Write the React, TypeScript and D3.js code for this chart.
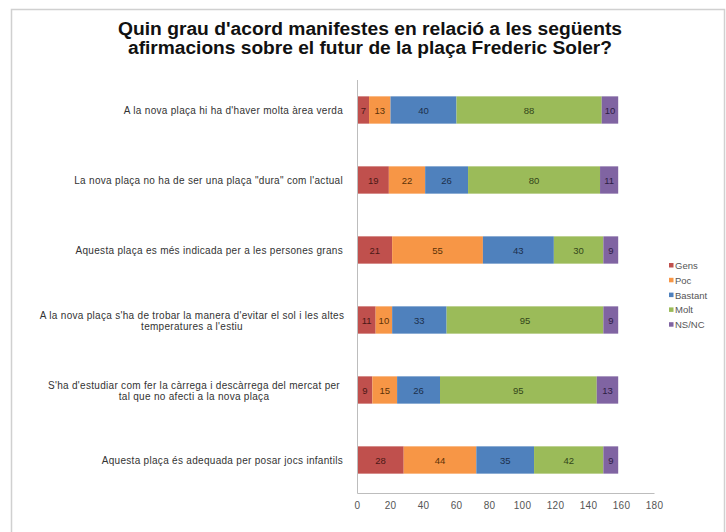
import React from "react";
import * as d3 from "d3";

const categories: string[][] = [
  ["A la nova plaça hi ha d'haver  molta àrea verda"],
  ["La nova plaça no ha de ser una plaça \"dura\"  com l'actual"],
  ["Aquesta plaça es més indicada per a les persones grans"],
  ["A la nova plaça s'ha de trobar la manera d'evitar el sol i les altes", "temperatures  a l'estiu"],
  ["S'ha d'estudiar com fer la càrrega  i descàrrega  del mercat per", "tal que no afecti a la nova  plaça"],
  ["Aquesta plaça és adequada per posar jocs infantils"],
];
const seriesNames = ["Gens", "Poc", "Bastant", "Molt", "NS/NC"];
const gens = [7, 19, 21, 11, 9, 28];
const poc = [13, 22, 55, 10, 15, 44];
const bastant = [40, 26, 43, 33, 26, 35];
const molt = [88, 80, 30, 95, 95, 42];
const nsnc = [10, 11, 9, 9, 13, 9];
const xTicks = [0, 20, 40, 60, 80, 100, 120, 140, 160, 180];
const titleLines = [
  "Quin grau d'acord manifestes en relació a les següents",
  "afirmacions sobre el futur de la plaça Frederic Soler?",
];

const colors = ["#C0504D", "#F79646", "#4F81BD", "#9BBB59", "#8064A2"];
const labelColors = ["#4a1816", "#5a3208", "#1c2f4a", "#33461a", "#2e2044"];

export default function App() {
  const W = 726, H = 532;
  const x0 = 357.5, x1 = 654.5;
  const yTop = 75, yBot = 495;
  const x = d3.scaleLinear().domain([0, 180]).range([x0, x1]);
  const y = d3.scaleBand<number>().domain(d3.range(categories.length)).range([yTop, yBot]).paddingInner(0.61).paddingOuter(0.305);
  const rows = categories.map((_, i) => ({ i, Gens: gens[i], Poc: poc[i], Bastant: bastant[i], Molt: molt[i], "NS/NC": nsnc[i] }));
  const stack = d3.stack<any>().keys(seriesNames)(rows);
  const font = "'Liberation Sans', Arial, sans-serif";
  const axisY = 493.5;
  const labelStyle = { letterSpacing: "0.3px" } as React.CSSProperties;
  const wrapCenters = [0, 0, 0, 192, 194, 0];

  return (
    <svg width={W} height={H} style={{ position: "absolute", left: 0, top: 0, background: "#fff" }} fontFamily={font}>
      <rect x={0} y={0} width={W} height={H} fill="#fff" />
      <rect x={11.5} y={9.5} width={713} height={540} fill="#fff" stroke="#d0d0d0" strokeWidth={1.5} />
      {titleLines.map((t, k) => (
        <text key={k} x={370} y={35 + k * 19} textAnchor="middle" fontSize={18} fontWeight="bold" fill="#111"
          textLength={k === 0 ? 504 : 484} lengthAdjust="spacingAndGlyphs">{t}</text>
      ))}
      {stack.map((s, si) => (
        <g key={si}>
          {s.map((d, ri) => {
            const bx = x(d[0]), bw = x(d[1]) - x(d[0]);
            const by = y(ri)!, bh = y.bandwidth();
            return (
              <g key={ri}>
                <rect x={bx} y={by} width={bw} height={bh} fill={colors[si]} />
                <text x={bx + bw / 2} y={by + bh / 2 + 3.5} textAnchor="middle" fontSize={9.5} fill={labelColors[si]}>{d[1] - d[0]}</text>
              </g>
            );
          })}
        </g>
      ))}
      <line x1={x0} x2={x0} y1={80} y2={axisY} stroke="#bdbdbd" />
      <line x1={x0} x2={x1} y1={axisY} y2={axisY} stroke="#bdbdbd" />
      {xTicks.map((t) => (
        <text key={t} x={x(t)} y={509} textAnchor="middle" fontSize={10} fill="#555" style={labelStyle}>{t}</text>
      ))}
      {categories.map((lines, i) => {
        const cy = y(i)! + y.bandwidth() / 2;
        if (lines.length === 1) {
          return <text key={i} x={343} y={cy + 3.5} textAnchor="end" fontSize={10} fill="#333" style={labelStyle}>{lines[0]}</text>;
        }
        return (
          <g key={i}>
            <text x={wrapCenters[i]} y={cy - 1.5} textAnchor="middle" fontSize={10} fill="#333" style={labelStyle}>{lines[0]}</text>
            <text x={wrapCenters[i]} y={cy + 9.5} textAnchor="middle" fontSize={10} fill="#333" style={labelStyle}>{lines[1]}</text>
          </g>
        );
      })}
      {seriesNames.map((n, k) => (
        <g key={n}>
          <rect x={669} y={263 + k * 14.8} width={4.5} height={4.5} fill={colors[k]} />
          <text x={675} y={269 + k * 14.8} fontSize={9.5} fill="#555">{n}</text>
        </g>
      ))}
    </svg>
  );
}
